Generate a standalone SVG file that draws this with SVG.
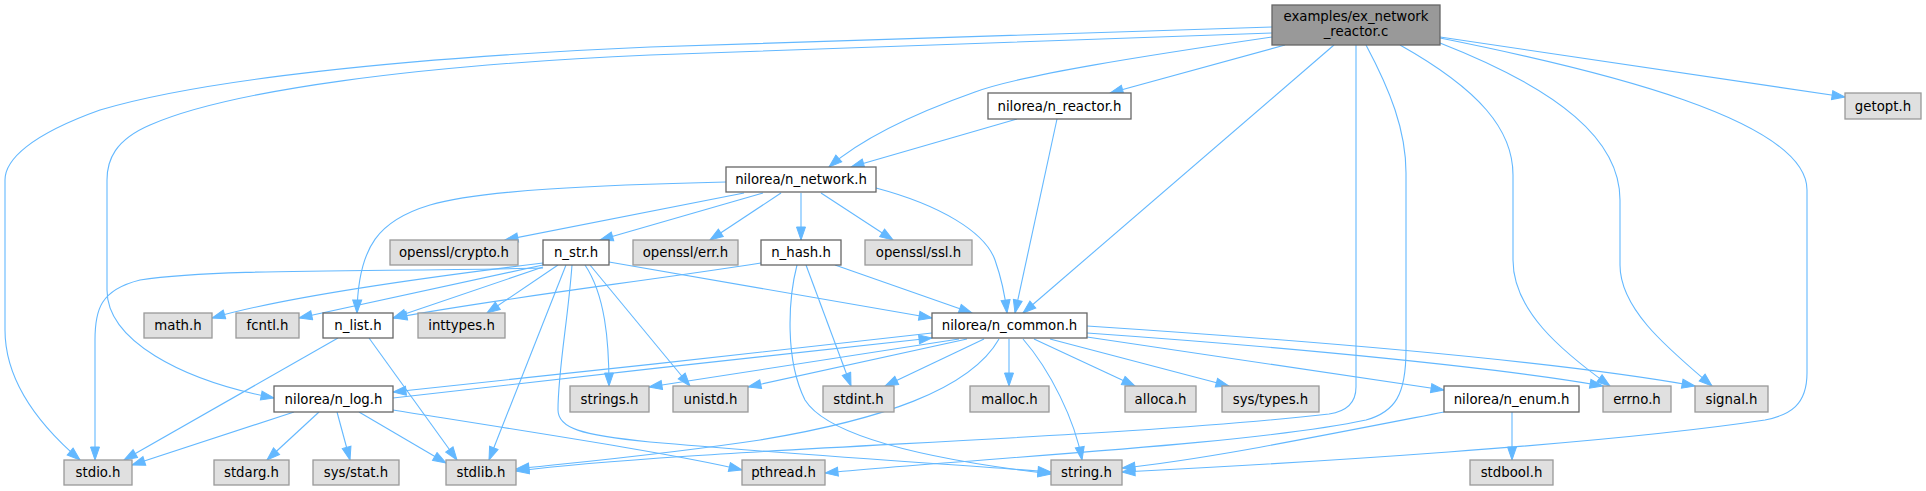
<svg xmlns="http://www.w3.org/2000/svg" width="1926" height="491" viewBox="0 0 1926 491">
<defs>
<marker id="a" markerUnits="userSpaceOnUse" markerWidth="15" markerHeight="11" viewBox="0 0 15 11" refX="14" refY="5.5" orient="auto"><path d="M1,1 L14,5.5 L1,10 z" fill="#63b8ff" stroke="#63b8ff" stroke-width="1"/></marker>
</defs>
<style>
.e path{fill:none;stroke:#63b8ff;stroke-width:1.1;marker-end:url(#a)}
.w rect{fill:#ffffff;stroke:#666666;stroke-width:1.3}
.g rect{fill:#e0e0e0;stroke:#999999;stroke-width:1.3}
.r rect{fill:#999999;stroke:#666666;stroke-width:1.3}
text{font-family:"DejaVu Sans","Liberation Sans",sans-serif;font-size:13.3px;text-anchor:middle;fill:#000}
</style>
<rect width="1926" height="491" fill="#ffffff"/>
<g id="edges" class="e">
<path d="M1285,45 L1110,93"/>
<path d="M1272,37 C1150,55 1020,75 975,92 C910,115 860,140 829,167"/>
<path d="M1334,45 L1023,313"/>
<path d="M1272,27 L650,47 C400,58 200,80 100,110 C30,135 5,160 5,180 L5,330 C5,385 45,430 80,460"/>
<path d="M1272,33 L650,55 C420,65 230,90 150,125 C115,140 107,160 107,180 L107,290 C107,340 180,380 274,398"/>
<path d="M1356,45 L1356,387 Q1356,410 1329,414 C1100,440 700,448 516,471"/>
<path d="M1366,45 C1390,90 1406,130 1406,173 L1406,350 C1406,395 1395,412 1366,420 C1250,445 950,460 825,473"/>
<path d="M1440,38 C1600,70 1807,120 1807,190 L1807,373 C1807,405 1790,415 1765,420 C1600,445 1300,463 1122,472"/>
<path d="M1400,45 C1480,90 1513,130 1513,175 L1513,260 C1513,310 1560,350 1610,386"/>
<path d="M1440,43 C1560,90 1620,140 1620,200 L1620,265 C1620,310 1670,350 1712,386"/>
<path d="M1440,37 L1845,97"/>
<path d="M1017,119 L851,167"/>
<path d="M1057,119 L1015,313"/>
<path d="M726,182 C600,185 480,190 430,205 C380,220 358,245 357,313"/>
<path d="M744,193 L505,240"/>
<path d="M763,193 L600,240"/>
<path d="M781,193 L710,240"/>
<path d="M801,193 L801,240"/>
<path d="M821,193 L893,240"/>
<path d="M876,188 C940,205 985,232 995,260 C1002,280 1005,295 1007,313"/>
<path d="M543,263 C420,278 280,298 212,318"/>
<path d="M543,265 L299,318"/>
<path d="M543,267 L393,318"/>
<path d="M543,268 C380,272 220,268 140,280 C100,290 95,310 95,340 L95,460"/>
<path d="M558,265 L487,313"/>
<path d="M566,265 L489,460"/>
<path d="M585,265 C605,295 609,340 609,386"/>
<path d="M590,265 L690,386"/>
<path d="M572,265 C568,320 558,370 558,410 C558,428 580,435 650,442 C800,455 960,465 1051,472"/>
<path d="M609,262 L932,318"/>
<path d="M761,263 C640,282 500,298 394,318"/>
<path d="M835,265 L972,313"/>
<path d="M806,265 L851,386"/>
<path d="M797,265 C788,300 785,360 805,400 C830,440 950,462 1051,474"/>
<path d="M338,338 L124,460"/>
<path d="M369,338 L457,460"/>
<path d="M294,412 L132,465"/>
<path d="M319,412 L267,460"/>
<path d="M337,412 L350,460"/>
<path d="M359,412 L446,463"/>
<path d="M393,410 C550,435 680,455 742,470"/>
<path d="M393,398 C550,380 780,354 932,338"/>
<path d="M932,333 C780,350 550,376 393,392"/>
<path d="M959,339 L649,387"/>
<path d="M967,339 L748,387"/>
<path d="M984,339 L885,386"/>
<path d="M1009,339 L1009,386"/>
<path d="M1034,339 L1135,386"/>
<path d="M1050,339 L1229,386"/>
<path d="M1023,339 C1050,370 1075,420 1082,460"/>
<path d="M999,339 C970,390 880,420 760,440 C660,455 580,462 516,469"/>
<path d="M1087,337 L1444,390"/>
<path d="M1087,333 C1300,348 1500,368 1603,386"/>
<path d="M1087,326 C1300,340 1550,360 1695,386"/>
<path d="M1512,412 L1512,460"/>
<path d="M1444,412 C1300,440 1200,460 1122,468"/>
</g>
<g id="n_examples" class="r"><rect x="1272" y="5" width="168" height="40"/><text x="1356" y="21">examples/ex_network</text><text x="1356" y="36">_reactor.c</text></g>
<g id="n_reactor" class="w"><rect x="988" y="93" width="143" height="26"/><text x="1059.5" y="110.5">nilorea/n_reactor.h</text></g>
<g id="n_getopt" class="g"><rect x="1845" y="93" width="76" height="26"/><text x="1883" y="110.5">getopt.h</text></g>
<g id="n_network" class="w"><rect x="726" y="167" width="150" height="25"/><text x="801" y="184">nilorea/n_network.h</text></g>
<g id="n_crypto" class="g"><rect x="390" y="240" width="128" height="25"/><text x="454" y="257">openssl/crypto.h</text></g>
<g id="n_str" class="w"><rect x="543" y="240" width="66" height="25"/><text x="576" y="257">n_str.h</text></g>
<g id="n_err" class="g"><rect x="633" y="240" width="105" height="25"/><text x="685.5" y="257">openssl/err.h</text></g>
<g id="n_hash" class="w"><rect x="761" y="240" width="80" height="25"/><text x="801" y="257">n_hash.h</text></g>
<g id="n_ssl" class="g"><rect x="865" y="240" width="107" height="25"/><text x="918.5" y="257">openssl/ssl.h</text></g>
<g id="n_math" class="g"><rect x="144" y="313" width="68" height="25"/><text x="178" y="330">math.h</text></g>
<g id="n_fcntl" class="g"><rect x="236" y="313" width="63" height="25"/><text x="267.5" y="330">fcntl.h</text></g>
<g id="n_list" class="w"><rect x="323" y="313" width="70" height="25"/><text x="358" y="330">n_list.h</text></g>
<g id="n_inttypes" class="g"><rect x="418" y="313" width="87" height="25"/><text x="461.5" y="330">inttypes.h</text></g>
<g id="n_common" class="w"><rect x="932" y="313" width="155" height="25"/><text x="1009.5" y="330">nilorea/n_common.h</text></g>
<g id="n_log" class="w"><rect x="274" y="386" width="119" height="26"/><text x="333.5" y="403.5">nilorea/n_log.h</text></g>
<g id="n_strings" class="g"><rect x="570" y="386" width="79" height="26"/><text x="609.5" y="403.5">strings.h</text></g>
<g id="n_unistd" class="g"><rect x="673" y="386" width="75" height="26"/><text x="710.5" y="403.5">unistd.h</text></g>
<g id="n_stdint" class="g"><rect x="823" y="386" width="71" height="26"/><text x="858.5" y="403.5">stdint.h</text></g>
<g id="n_malloc" class="g"><rect x="970" y="386" width="79" height="26"/><text x="1009.5" y="403.5">malloc.h</text></g>
<g id="n_alloca" class="g"><rect x="1125" y="386" width="71" height="26"/><text x="1160.5" y="403.5">alloca.h</text></g>
<g id="n_systypes" class="g"><rect x="1222" y="386" width="97" height="26"/><text x="1270.5" y="403.5">sys/types.h</text></g>
<g id="n_enum" class="w"><rect x="1444" y="386" width="135" height="26"/><text x="1511.5" y="403.5">nilorea/n_enum.h</text></g>
<g id="n_errno" class="g"><rect x="1603" y="386" width="68" height="26"/><text x="1637" y="403.5">errno.h</text></g>
<g id="n_signal" class="g"><rect x="1695" y="386" width="73" height="26"/><text x="1731.5" y="403.5">signal.h</text></g>
<g id="n_stdio" class="g"><rect x="64" y="460" width="68" height="25"/><text x="98" y="477">stdio.h</text></g>
<g id="n_stdarg" class="g"><rect x="214" y="460" width="75" height="25"/><text x="251.5" y="477">stdarg.h</text></g>
<g id="n_sysstat" class="g"><rect x="313" y="460" width="86" height="25"/><text x="356" y="477">sys/stat.h</text></g>
<g id="n_stdlib" class="g"><rect x="446" y="460" width="70" height="25"/><text x="481" y="477">stdlib.h</text></g>
<g id="n_pthread" class="g"><rect x="742" y="460" width="83" height="25"/><text x="783.5" y="477">pthread.h</text></g>
<g id="n_string" class="g"><rect x="1051" y="460" width="71" height="25"/><text x="1086.5" y="477">string.h</text></g>
<g id="n_stdbool" class="g"><rect x="1470" y="460" width="83" height="25"/><text x="1511.5" y="477">stdbool.h</text></g>
</svg>
